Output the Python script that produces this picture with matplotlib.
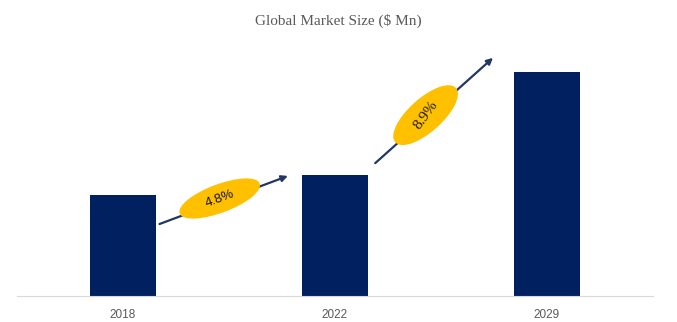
import numpy as np
import matplotlib.pyplot as plt
from matplotlib.patches import Ellipse, FancyArrowPatch

# market size values ($ Mn)
years = ['2018', '2022', '2029']
market_size = [101, 121, 224]
cagr_labels = ['4.8%', '8.9%']

navy = '#002060'
yellow = '#FFC000'
arrow_col = '#1F3864'

fig = plt.figure(figsize=(6.77, 3.22), dpi=100)
ax = fig.add_axes([17/677, 26/322, 636/677, 256/322])

x = np.arange(len(years))
ax.bar(x, market_size, width=0.31, color=navy)
ax.set_xlim(-0.5, 2.5)
ax.set_ylim(0, 256)
ax.set_yticks([])
ax.set_xticks(x)
ax.set_xticklabels(years, fontsize=8.5, color='#595959', family='Liberation Sans')
ax.tick_params(axis='x', length=0, pad=9)
for s in ['top', 'left', 'right']:
    ax.spines[s].set_visible(False)
ax.spines['bottom'].set_color('#D9D9D9')

fig.text(0.5, 0.935, 'Global Market Size ($ Mn)', ha='center', va='center',
         fontsize=11, color='#595959', family='Liberation Serif')

# overlay in pixel coordinates for the growth arrows
ov = fig.add_axes([0, 0, 1, 1])
ov.set_xlim(0, 677)
ov.set_ylim(322, 0)
ov.axis('off')

def to_px(xd, yd):
    px, py = ax.transData.transform((xd, yd))
    return px, 322 - py

# arrows: (start, end) in data coords
arrows = [((0.16, 71), (0.79, 121)), ((1.18, 131), (1.755, 240))]
ell_sizes = [(84, 27), (80, 32)]
text_extra = [0, 12]
ell_pos = [0.47, 0.43]
text_size = [9.5, 11]
text_family = ['Liberation Sans', 'Liberation Serif']

for i, ((a, b), lab) in enumerate(zip(arrows, cagr_labels)):
    p0 = to_px(*a)
    p1 = to_px(*b)
    ov.add_patch(FancyArrowPatch(p0, p1, arrowstyle='-|>', mutation_scale=9,
                                 color=arrow_col, lw=1.6, zorder=2))
    ang = np.degrees(np.arctan2(p1[1] - p0[1], p1[0] - p0[0]))
    cx = p0[0] + ell_pos[i] * (p1[0] - p0[0])
    cy = p0[1] + ell_pos[i] * (p1[1] - p0[1]) - 3
    w, h = ell_sizes[i]
    ov.add_patch(Ellipse((cx, cy), w, h, angle=ang, color=yellow, zorder=3))
    ov.text(cx, cy, lab, rotation=-ang + text_extra[i], ha='center', va='center',
            fontsize=text_size[i], family=text_family[i], color='#1a1a1a',
            zorder=4, rotation_mode='anchor')

fig.savefig('out.png', dpi=100)
